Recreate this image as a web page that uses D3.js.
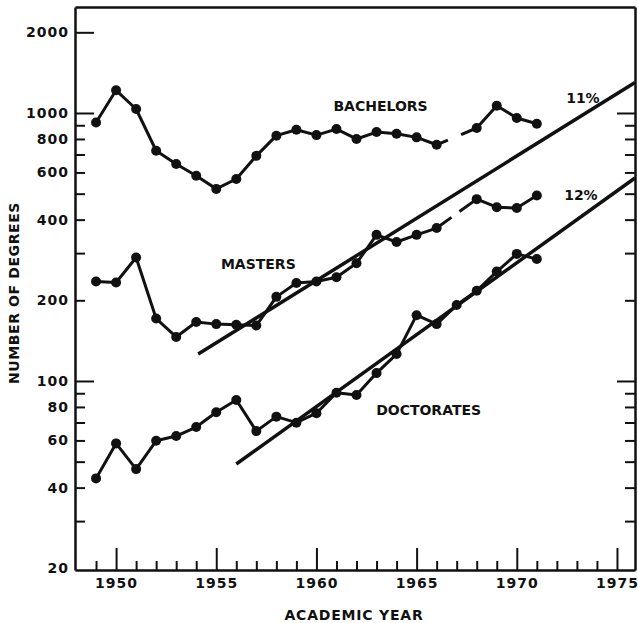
<!DOCTYPE html>
<html>
<head>
<meta charset="utf-8">
<script src="https://cdn.jsdelivr.net/npm/d3@7/dist/d3.min.js"></script>
<style>
  body { margin: 0; background: #fff; }
  text { font-family: "DejaVu Sans", sans-serif; font-weight: bold; fill: #111; }
</style>
</head>
<body>
<div id="chart"></div>
<script>
var years = d3.range(1949, 1972);
// null = no point plotted (1967)
var bachelors = [922, 1215, 1035, 723, 645, 583, 521, 567, 692, 823, 866, 827, 871, 800, 849, 837, 811, 761, null, 879, 1065, 958, 912];
var masters = [235, 233, 289, 171, 146, 166, 163, 162, 161, 206, 232, 235, 244, 275, 351, 330, 351, 372, null, 477, 445, 442, 492];
var doctorates = [43.3, 58.5, 46.9, 59.8, 62.3, 67.3, 76.4, 84.9, 65.0, 73.6, 69.9, 75.8, 90.4, 88.7, 107, 126, 176, 163, 192, 217, 256, 298, 285];

var trend11 = [[1954.1, 126], [1975.9, 1300]];
var trend12 = [[1956.0, 49], [1975.9, 572]];

var yLabelTicks = [20, 40, 60, 80, 100, 200, 400, 600, 800, 1000, 2000];
var yLongTicks = [100, 1000, 2000];
var xLabelTicks = [1950, 1955, 1960, 1965, 1970, 1975];

var width = 638, height = 623;

var svg = d3.select("#chart")
  .append("svg")
  .attr("width", width)
  .attr("height", height);

var x = d3.scaleLinear()
  .domain([1947.95, 1975.9])
  .range([75, 635]);

var y = d3.scaleLog()
  .domain([19.71, 2486])
  .range([570, 7]);

var leftTicks = [30, 40, 50, 60, 70, 80, 90, 100, 200, 300, 400, 500, 600, 700, 800, 900, 1000, 2000];
var rightTicks = [30, 40, 50, 60, 70, 80, 90, 100, 200, 300, 400, 500, 600, 700, 800, 900, 1000];

// left axis
var gLeft = svg.append("g")
  .attr("transform", "translate(" + x.range()[0] + ",0)")
  .call(d3.axisLeft(y)
    .tickValues(leftTicks.concat([20]))
    .tickSize(-10)
    .tickSizeOuter(0)
    .tickPadding(6)
    .tickFormat(function (d) { return yLabelTicks.indexOf(d) >= 0 ? d : ""; }));
gLeft.selectAll(".tick line")
  .attr("x2", function (d) { return d === 20 ? 0 : (yLongTicks.indexOf(d) >= 0 ? 19 : 10); });

// right axis
var gRight = svg.append("g")
  .attr("transform", "translate(" + x.range()[1] + ",0)")
  .call(d3.axisRight(y)
    .tickValues(rightTicks)
    .tickSize(-10)
    .tickSizeOuter(0)
    .tickFormat(""));
gRight.selectAll(".tick line")
  .attr("x2", function (d) { return yLongTicks.indexOf(d) >= 0 ? -18 : -10; });

// bottom axis
var gBottom = svg.append("g")
  .attr("transform", "translate(0," + y.range()[0] + ")")
  .call(d3.axisBottom(x)
    .tickValues(d3.range(1949, 1976))
    .tickSize(-9)
    .tickSizeOuter(0)
    .tickPadding(8)
    .tickFormat(function (d) { return xLabelTicks.indexOf(d) >= 0 ? d : ""; }));
gBottom.selectAll(".tick line")
  .attr("y2", function (d) { return xLabelTicks.indexOf(d) >= 0 ? -22 : -9; });

// top frame
svg.append("g")
  .attr("transform", "translate(0," + y.range()[1] + ")")
  .call(d3.axisTop(x).tickValues([]).tickSizeOuter(0));

svg.selectAll(".domain").attr("stroke", "#111").attr("stroke-width", 2.5);
svg.selectAll(".tick line").attr("stroke", "#111").attr("stroke-width", 2);
svg.selectAll(".tick text")
  .style("font-size", "14px")
  .style("letter-spacing", "1px")
  .attr("fill", "#111");

// axis titles
svg.append("text")
  .attr("transform", "translate(18.5,293) rotate(-90)")
  .attr("text-anchor", "middle")
  .style("font-size", "14px")
  .style("letter-spacing", "0.6px")
  .text("NUMBER OF DEGREES");

svg.append("text")
  .attr("x", 354)
  .attr("y", 620)
  .attr("text-anchor", "middle")
  .style("font-size", "14px")
  .style("letter-spacing", "0.8px")
  .text("ACADEMIC YEAR");

// trend lines
var trendLine = d3.line()
  .x(function (d) { return x(d[0]); })
  .y(function (d) { return y(d[1]); });

[trend11, trend12].forEach(function (t) {
  svg.append("path")
    .datum(t)
    .attr("d", trendLine)
    .attr("fill", "none")
    .attr("stroke", "#111")
    .attr("stroke-width", 3.5);
});

// series
var series = [
  { name: "BACHELORS", values: bachelors, gap: [0.28, 0.61] },
  { name: "MASTERS", values: masters, gap: [0.37, 0.57] },
  { name: "DOCTORATES", values: doctorates, gap: null }
];

var line = d3.line()
  .defined(function (d) { return d.v != null; })
  .x(function (d) { return x(d.year); })
  .y(function (d) { return y(d.v); });

series.forEach(function (s) {
  var pts = years.map(function (yr, i) { return { year: yr, v: s.values[i] }; });

  svg.append("path")
    .datum(pts)
    .attr("d", line)
    .attr("fill", "none")
    .attr("stroke", "#111")
    .attr("stroke-width", 3)
    .attr("stroke-linejoin", "round");

  // broken connector across the missing year
  if (s.gap) {
    pts.forEach(function (p, i) {
      if (p.v == null && i > 0 && i < pts.length - 1) {
        var a = [x(pts[i - 1].year), y(pts[i - 1].v)];
        var b = [x(pts[i + 1].year), y(pts[i + 1].v)];
        var interp = d3.interpolate(a, b);
        [[0, s.gap[0]], [s.gap[1], 1]].forEach(function (seg) {
          svg.append("line")
            .attr("x1", interp(seg[0])[0]).attr("y1", interp(seg[0])[1])
            .attr("x2", interp(seg[1])[0]).attr("y2", interp(seg[1])[1])
            .attr("stroke", "#111")
            .attr("stroke-width", 3);
        });
      }
    });
  }

  svg.append("g")
    .selectAll("circle")
    .data(pts.filter(function (d) { return d.v != null; }))
    .enter()
    .append("circle")
    .attr("cx", function (d) { return x(d.year); })
    .attr("cy", function (d) { return y(d.v); })
    .attr("r", 5)
    .attr("fill", "#111");
});

// series labels
var labels = [
  { text: "BACHELORS", year: 1963.2, value: 1021 },
  { text: "MASTERS", year: 1957.1, value: 262 },
  { text: "DOCTORATES", year: 1965.6, value: 74.7 },
  { text: "11%", year: 1973.3, value: 1089 },
  { text: "12%", year: 1973.2, value: 473 }
];

svg.append("g")
  .selectAll("text")
  .data(labels)
  .enter()
  .append("text")
  .attr("x", function (d) { return x(d.year); })
  .attr("y", function (d) { return y(d.value); })
  .attr("text-anchor", "middle")
  .style("font-size", "14px")
  .text(function (d) { return d.text; });
</script>
</body>
</html>
